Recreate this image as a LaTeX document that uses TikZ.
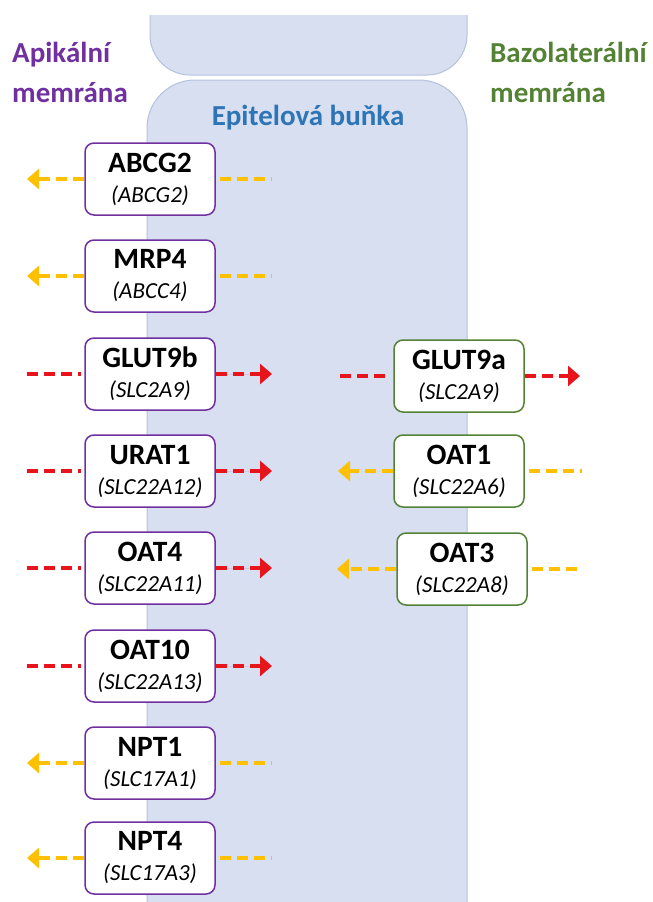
\documentclass[tikz,border=0pt]{standalone}
\usepackage{fontspec}
\setmainfont{Carlito}
\usetikzlibrary{arrows.meta}
\definecolor{cellfill}{HTML}{D7DFF1}
\definecolor{celledge}{HTML}{B4C2DE}
\definecolor{apic}{HTML}{7030A0}
\definecolor{bazo}{HTML}{548235}
\definecolor{epi}{HTML}{2E75B6}
\definecolor{yel}{HTML}{FFC000}
\definecolor{redc}{HTML}{E8141C}
\begin{document}
\begin{tikzpicture}[x=1pt,y=-1pt,
  tbox/.style={line width=1.5pt, rounded corners=9pt, fill=white, minimum width=130pt, minimum height=72pt, align=center, inner sep=0pt, font=\fontsize{23}{30}\selectfont},
  apbox/.style={tbox, draw=apic},
  bzbox/.style={tbox, draw=bazo},
  yline/.style={draw=yel, line width=3.5pt, dash pattern=on 11pt off 6pt},
  rline/.style={draw=redc, line width=3.5pt, dash pattern=on 11pt off 6pt},
  ytip/.style={-{Triangle[length=12pt,width=20pt]}, fill=yel},
  rtip/.style={-{Triangle[length=12pt,width=20pt]}, fill=redc},
  title/.style={font=\fontsize{29}{30}\selectfont\bfseries, anchor=base west, inner sep=0pt}
]
\useasboundingbox (0,0) rectangle (653,902);
% cells
\begin{scope}
\clip (0,15) rectangle (653,902);
\path[fill=cellfill] (150,0) -- (150,35) arc[start angle=180, end angle=90, radius=40] -- (427,75) arc[start angle=90, end angle=0, radius=40] -- (467,0) -- cycle;
\draw[celledge, line width=1pt] (150,0) -- (150,35) arc[start angle=180, end angle=90, radius=40] -- (427,75) arc[start angle=90, end angle=0, radius=40] -- (467,0);
\draw[celledge, fill=cellfill, line width=1pt, rounded corners=48pt] (147,80) rectangle (467,950);
\end{scope}
% titles
\node[title, text=apic] (ap1) at (12,62) {Apikální};
\node[title, text=apic] (ap2) at (12,102) {memrána};
\node[title, text=bazo] (bz1) at (490,62) {Bazolaterální};
\node[title, text=bazo] (bz2) at (490,102) {memrána};
\node[title, text=epi, anchor=base] (epi) at (308,125) {Epitelová buňka};
% left boxes
\newcommand{\tlab}[2]{{\fontsize{29.5}{30}\selectfont\bfseries #1}\\{\itshape (#2)}}
\node[apbox] (abcg) at (150,179) {\tlab{ABCG2}{ABCG2}};
\node[apbox] (mrp) at (150,276) {\tlab{MRP4}{ABCC4}};
\node[apbox] (glutb) at (150,374) {\tlab{GLUT9b}{SLC2A9}};
\node[apbox] (urat) at (150,471) {\tlab{URAT1}{SLC22A12}};
\node[apbox] (oatf) at (150,568) {\tlab{OAT4}{SLC22A11}};
\node[apbox] (oatt) at (150,666) {\tlab{OAT10}{SLC22A13}};
\node[apbox] (nptj) at (150,763) {\tlab{NPT1}{SLC17A1}};
\node[apbox] (nptc) at (150,858) {\tlab{NPT4}{SLC17A3}};
% right boxes
\node[bzbox] (gluta) at (459,376) {\tlab{GLUT9a}{SLC2A9}};
\node[bzbox] (oatj) at (459,471) {\tlab{OAT1}{SLC22A6}};
\node[bzbox] (oatr) at (462,569) {\tlab{OAT3}{SLC22A8}};
% free ends
\foreach \n/\y in {abcg/179, mrp/276, glutb/374, urat/471, oatf/568, oatt/666, nptj/763, nptc/858}{
  \coordinate (\n L) at (27,\y);
  \coordinate (\n R) at (272,\y);
}
\coordinate (glutaL) at (340,376); \coordinate (glutaR) at (580,376);
\coordinate (oatjL) at (338,471); \coordinate (oatjR) at (582,471);
\coordinate (oatrL) at (337,569); \coordinate (oatrR) at (578,569);
% yellow left
\foreach \n in {abcg, mrp, nptj, nptc}{
  \draw[yline, ytip] (\n.west) -- (\n L);
  \draw[yline] ([xshift=4pt]\n.east) -- (\n R);
}
% red left
\foreach \n in {glutb, urat, oatf, oatt}{
  \draw[rline] (\n L) -- ([xshift=-3pt]\n.west);
  \draw[rline, rtip] (\n.east) -- (\n R);
}
% right
\draw[rline] (glutaL) -- ([xshift=-3pt]gluta.west);
\draw[rline, rtip] (gluta.east) -- (glutaR);
\draw[yline, ytip] (oatj.west) -- (oatjL);
\draw[yline] ([xshift=4pt]oatj.east) -- (oatjR);
\draw[yline, ytip] (oatr.west) -- (oatrL);
\draw[yline] ([xshift=4pt]oatr.east) -- (oatrR);
\end{tikzpicture}
\end{document}
